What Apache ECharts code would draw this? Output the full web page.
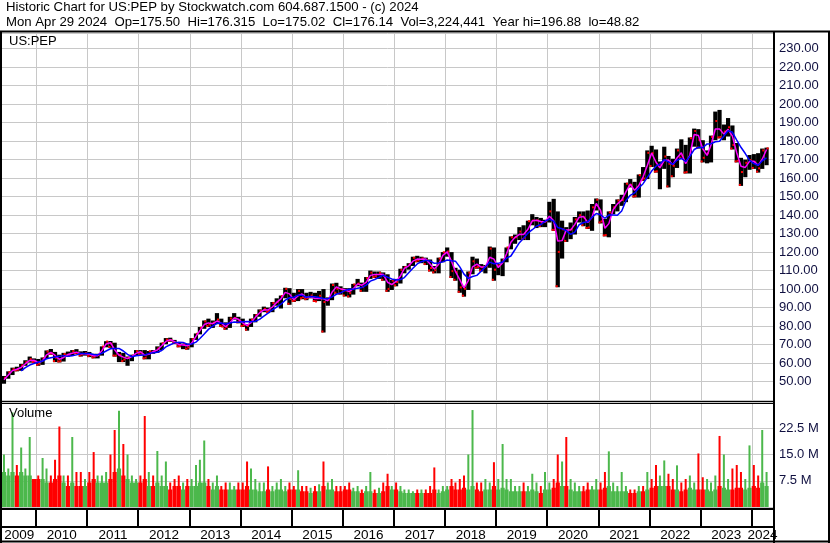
<!DOCTYPE html>
<html><head><meta charset="utf-8">
<script src="https://cdn.jsdelivr.net/npm/echarts/dist/echarts.min.js"></script>
<style>html,body{margin:0;padding:0;background:#fff}#c{width:830px;height:543px}</style>
</head><body><div id="c"></div>
<script>
// ---------- DATA (monthly, May 2009 .. Apr 2024) ----------
const firstYear = 2009, firstMonth = 5;
const years = [2009,2010,2011,2012,2013,2014,2015,2016,2017,2018,2019,2020,2021,2022,2023,2024];
const high = [
53,55.5,57.5,58,59.5,61.5,63.5,62.5,
62.2,63,66.8,67.6,66,64.5,65.5,66.2,67,67.5,66.3,66.5,
66,65,65,69,71.8,71.9,71,66,65.5,63.5,64.5,67,
67,67,66.5,67,69,71,73.5,73.7,72.5,71,70.5,70.5,
73.5,76,79.5,83,84,83,87,84,82,85,87,85,
84,81,84,86.5,89,90.5,90,93,95,96.5,100.7,100.5,
98,100,100,98,98.5,98,99,100,95.5,103,103.4,101.5,
100.5,100.5,102.8,105.5,103.5,106.5,110,109.5,109.5,109,108,105,
105.5,111,112.5,114,117.5,118,117.5,117,116,112.5,117,120,
122.5,120,111.5,110.5,101.5,109.5,117.5,116.5,113.5,113,123,122.5,
113.5,116.5,122.5,128.5,129.5,133.5,134.5,137,140.5,139,138.5,137.5,
147.2,148.8,142,137,133.5,136,139,142,142,142.5,146,149,
148.5,138,142,146,148.5,151,157.5,159.5,158,162,166,175,
177.5,175.5,169,177,172,170.5,176,181,178,182,186.8,186.5,
180.5,175,183,196,196.9,189,192.5,188.5,179,171,170,172.5,
173,173.5,176,176.5];
const low = [
48.8,51.5,53.5,55.5,55.8,58.5,60.2,60,
58.5,59,62.3,64.5,60.5,60.3,60.8,63.5,63.8,64.8,63.5,64,
63.2,62.5,62.5,64,68.5,68.2,63.5,60.5,60.5,58.5,61,63.8,
64.5,62,62,65,65.5,67,70.2,71.5,70.3,68.5,67.5,67.2,
68.5,72.5,75.5,78.5,79.5,79,81,79.5,78,79,83.5,81.5,
79.5,77.5,79.5,82,85,87.5,87,87.5,91,89.5,95,91.5,
93,93.5,94.5,94,95,93,93.5,76.5,91,94,97.5,97,
96,95.5,97,101.5,98.5,98.5,105.5,106,105.5,104.5,98.5,99.5,
101.5,103,108.5,110.5,112.5,114.5,114,113,109.5,108.5,108.5,114.5,
117.5,106,104.5,98,95.9,99.5,108,111,109.5,108.5,111.5,104.5,
107.5,107,114.5,121.5,124.5,126.5,126.5,126.5,134.5,133,133.5,133.5,
136,131.5,101,116.5,125.5,127,129.5,136,134,132.5,131.5,142.5,
135.5,128.5,128,140.5,142,145,147,155,149.5,149.5,158.5,159.5,
166,163,154,165,155,160.5,165.5,170.5,162.5,162.5,177,176,
168.5,168,168.5,180.5,181.5,180.5,182.5,175.5,168.5,155.8,160.5,164.5,
165,163,165,167];
const close = [
52,55,56.7,56.4,58.7,60.5,62.2,60.8,
59.6,62.5,66.2,65.2,62.9,61,64.9,64.2,66.4,65.3,64.6,65.3,
64.3,63.4,64.4,68.9,71.6,70.4,64,64.4,61.9,62.9,64,66.4,
65.7,62.9,66.4,66,67.9,70.7,72.7,72.4,70.8,69.2,70.2,68.4,
72.9,75.8,79.1,82.5,80.8,81.8,83.5,79.7,79.5,84.1,84.4,82.9,
80.4,80.1,83.5,85.9,88.3,89.3,88.1,92.5,93.1,96.2,100.1,94.6,
93.8,99,95.6,95.1,96.5,93.3,96.4,93,94.3,102.2,100.2,99.9,
99.3,97.8,102.5,103,101.2,105.9,108.9,106.9,108.8,107.2,100.1,104.6,
103.8,110.4,111.9,113.3,116.9,115.5,116.6,115.7,111.4,110.2,116.5,119.9,
120.3,109.7,109.2,100.9,100.2,108.9,115,112,111.8,112.4,121.9,110.5,
112.7,115.7,122.5,128,128,131.1,127.8,136.7,137.1,137.2,135.8,136.7,
142,132,120.1,132.3,131.5,132.3,137.7,140,138.6,133.3,144.2,148.3,
136.6,129.2,141.5,144.2,147.9,148.2,157,156.4,150.4,161.6,159.8,173.7,
173.5,163.7,167.4,171.7,167.8,166.7,175,172.3,163.3,181.6,185.5,180.7,
171,173.5,182.3,190.9,182.3,185.2,187.5,177.9,169.4,163.3,168.3,169.8,
168.5,165.3,175,176.1];
const maShort = [
51,53.5,55.9,56.6,57.6,59.6,61.4,61.5,
60.2,61.1,64.4,65.7,64.1,62,63,64.6,65.3,65.9,65,65,
64.8,63.9,63.9,66.7,70.3,71,67.2,64.2,63.2,62.4,63.5,65.2,
66.1,64.3,64.7,66.2,67,69.3,71.7,72.6,71.6,70,69.7,69.3,
70.7,74.4,77.5,80.8,81.7,81.3,82.7,81.6,79.6,81.8,84.3,83.7,
81.7,80.3,81.8,84.7,87.1,88.8,88.7,90.3,92.8,94.7,98.2,97.4,
94.2,96.4,97.3,95.4,95.8,94.9,94.9,94.7,93.7,98.3,101.2,100.1,
99.6,98.6,100.2,102.8,102.1,103.6,107.4,107.9,107.9,108,103.7,102.4,
104.2,107.1,111.2,112.6,115.1,116.2,116.1,116.2,113.6,110.8,113.4,118.2,
120.1,115,109.5,105.1,100.6,104.6,112,113.5,111.9,112.1,117.2,116.2,
111.6,114.2,119.1,125.3,128,129.6,129.5,132.3,136.9,137.2,136.5,136.3,
139.4,137,126,126.2,131.9,131.9,135,138.9,139.3,136,138.8,146.3,
142.5,132.9,135.4,142.9,146.1,148.1,152.6,156.7,153.4,156,160.7,166.8,
173.6,168.6,165.6,169.6,169.8,167.3,170.9,173.7,167.8,172.5,183.6,183.1,
175.9,172.3,177.9,186.6,186.6,183.8,186.4,182.7,173.7,166.4,165.8,169.1,
169.2,166.9,170.2,175.5];
const maLong = [
null,null,null,null,55.8,57.5,58.9,59.7,
60.4,61.1,62.3,62.9,63.3,63.6,64,63.6,63.9,64.4,65.1,65.2,
65.2,64.6,64.4,65.3,66.5,67.7,67.9,67.9,66.5,64.7,63.4,63.9,
64.2,64.4,65.1,65.5,65.8,66.8,68.7,69.9,70.9,71.2,71.1,70.2,
70.3,71.3,73.3,75.7,78.2,80,81.5,81.7,81.1,81.7,82.2,82.1,
82.3,82.4,82.3,82.6,83.6,85.4,87,88.8,90.3,91.8,94,95.3,
95.6,96.7,96.6,95.6,96,95.9,95.4,94.9,94.7,95.8,97.2,97.9,
99.2,99.9,99.9,100.5,100.8,102.1,104.3,105.2,106.3,107.5,106.4,105.5,
104.9,105.2,106.2,108.8,111.3,113.6,114.8,115.6,115.2,113.9,114.1,114.7,
115.7,115.3,115.1,112,108.1,105.8,106.8,107.4,109.6,112,114.6,113.7,
113.9,114.6,116.7,117.9,121.4,125.1,127.5,130.3,132.1,134,134.9,136.7,
137.8,136.7,133.3,132.6,131.6,129.6,130.8,134.8,136,136.4,138.8,140.9,
140.2,138.3,140,140,139.9,142.2,147.8,150.7,152,154.7,157,160.4,
163.8,166.5,167.6,170,168.8,167.5,169.7,170.7,169,171.8,175.5,176.7,
176.4,178.5,178.6,179.7,180,182.8,185.6,184.8,180.5,176.7,173.3,169.7,
167.9,167,169.4,170.9];
// volume in millions: typical level and peak of the month
const volTypical = [
10,9,10,9,10,9,9,8,
8,8,7,7,8,9,7,6,7,6,6,6,
7,8,7,7,7,8,10,11,9,8,7,7,
7,8,6,6,7,6,6,5,6,6,5,6,
6,6,7,7,6,5,6,5,5,5,5,5,
5,6,5,5,4.5,4.5,5,4.5,5,5,4.5,5,
5,5,4.5,4.5,4,4.5,4.5,6,5,5,4.5,4.5,
5,5,4.5,4.5,4,4.5,4.5,4,4,4.5,6,5,
5,4.5,4,4,4,4,4,4,4,5,4,4.5,
5,6,5,5,5.5,5,6,5,4.5,5,5,6,
5,5.5,5,4.5,4.5,4.5,4.5,4.5,5,4.5,4,5,
5,5.5,7,6,6,5,4.5,4.5,4.5,5,5,5,
5,5.5,6,4.5,4.5,4.5,4.5,4,4,4.5,4.5,5,
5.5,6,6,6,6,5,5,4.5,5,5.5,5,5,
5,5,4.5,5,6,5.5,5,5,5.5,5.5,5,5.5,
6,5.5,7,6];
const volPeak = [
15,11,27,12,17,11,20,8,
9,14,11,9,13.5,23,9,9,20,10,10,8,
10,15.7,9,9,10,15,22,27.5,18,15,9,8,
9,26,10,9,16,9,13,7,8,9,7,8,
8,12,13.5,19,8,7,9,6,7,7,6,7,
7,13,11,8,7,7,11.6,6,7,8,6,7,
6,10.5,6,6,5.5,6,6.5,13,7,8,6,6,
6,7,5.5,6,5,6,10,5,5.5,7,9.5,6,
7,6,5,5,4.5,5,5,5,6,11.3,5,6,
6,8,7,8,9,15,27.7,7,7,8,7,12.8,
8,18,8,8,6,6,7,6,9.5,7,6,10,
7,8,15,13,20,8,7,6,6,7,6,8,
7,10,15.9,7,6,10,6,5,5,6,6,10,
8,12,9,13.3,9.5,8,11.9,7,8,9,7,15.3,
8.5,8,7,9,20.3,15,8,11,12,10,8,17.6,
12,9,22,10];
const header1 = 'Historic Chart for US:PEP by Stockwatch.com 604.687.1500 - (c) 2024';
const header2 = 'Mon Apr 29 2024  Op=175.50  Hi=176.315  Lo=175.02  Cl=176.14  Vol=3,224,441  Year hi=196.88  lo=48.82';
const symbolLabel = 'US:PEP';
const volumeLabel = 'Volume';

// ---------- BUILD ----------
const DAY = 86400000;
const months = close.map((_, i) => Date.UTC(firstYear, firstMonth - 1 + i, 15));
const priceData = months.map((t, i) => [t, high[i], low[i], close[i], i === 0 || close[i] >= close[i-1] ? 1 : 0]);
const volData = months.map((t, i) => [t, volTypical[i], volPeak[i], i === 0 || close[i] >= close[i-1] ? 1 : 0]);
const shortLine = months.map((t, i) => [t, maShort[i]]);
const longLine = months.map((t, i) => [t, maLong[i]]);
const yearStarts = years.map(y => [Date.UTC(y, 0, 1), y]);

const XMIN = Date.UTC(2009, 4, 1), XMAX = Date.UTC(2024, 4, 31);
const FONT = '13px "Liberation Sans", Arial, sans-serif';
const GREEN = '#4cb84c', RED = '#ff0000', GRID = '#c8c8c8';
const L = 2, W = 771;

function renderBar(params, api) {
  const t = api.value(0);
  const pH = api.coord([t, api.value(1)]), pL = api.coord([t, api.value(2)]), pC = api.coord([t, api.value(3)]);
  const w = api.size([DAY * 30, 0])[0];
  const x0 = pH[0] - w / 2;
  const ch = [
    { type: 'rect', shape: { x: x0, y: pH[1], width: w, height: Math.max(1, pL[1] - pH[1]) }, style: { fill: '#000' } },
    { type: 'rect', shape: { x: pC[0], y: pC[1] - 1, width: w / 2, height: 2 }, style: { fill: RED } }
  ];
  if (!api.value(4)) ch.push({ type: 'rect', shape: { x: x0, y: pL[1] - 2, width: w / 2, height: 2 }, style: { fill: RED } });
  return { type: 'group', children: ch };
}
function renderVol(params, api) {
  const t = api.value(0);
  const p0 = api.coord([t, 0]), pT = api.coord([t, api.value(1)]), pP = api.coord([t, api.value(2)]);
  const w = api.size([DAY * 30, 0])[0];
  const col = api.value(3) ? GREEN : RED;
  return { type: 'group', children: [
    { type: 'rect', shape: { x: p0[0] - w / 2, y: pT[1], width: w, height: p0[1] - pT[1] }, style: { fill: col } },
    { type: 'rect', shape: { x: p0[0] - 1, y: pP[1], width: 2, height: p0[1] - pP[1] }, style: { fill: col } }
  ]};
}
function renderYearLine(params, api) {
  const cs = params.coordSys;
  const x = Math.round(api.coord([api.value(0), 0])[0]) + 0.5;
  if (x <= cs.x + 1 || x >= cs.x + cs.width) return null;
  return { type: 'line', shape: { x1: x, y1: cs.y, x2: x, y2: cs.y + cs.height }, style: { stroke: GRID, lineWidth: 1 } };
}
function renderYearBox(params, api) {
  const cs = params.coordSys;
  const y = api.value(1);
  let x1 = api.coord([api.value(0), 0])[0];
  let x2 = api.coord([Date.UTC(y + 1, 0, 1), 0])[0];
  x1 = Math.max(x1, cs.x); x2 = Math.min(x2, cs.x + cs.width);
  const children = [];
  if (x1 > cs.x + 1) children.push({ type: 'line', shape: { x1: Math.round(x1), y1: cs.y, x2: Math.round(x1), y2: cs.y + 18 }, style: { stroke: '#000', lineWidth: 2 } });
  children.push({ type: 'text', style: { text: String(y), x: (x1 + x2) / 2, y: cs.y + 26, align: 'center', verticalAlign: 'middle', textAlign: 'center', textVerticalAlign: 'middle', font: '13.5px "Liberation Sans", Arial', fill: '#000' } });
  return { type: 'group', children };
}

const xAxisBase = { type: 'time', min: XMIN, max: XMAX, show: false };
const hline = (x1, y, x2, w) => ({ type: 'line', z: 100, shape: { x1, y1: y, x2, y2: y }, style: { stroke: '#000', lineWidth: w } });
const vline = (x, y1, y2, w) => ({ type: 'line', z: 100, shape: { x1: x, y1, x2: x, y2 }, style: { stroke: '#000', lineWidth: w } });

const option = {
  animation: false,
  backgroundColor: '#fff',
  grid: [
    { left: L, width: W, top: 33, height: 367 },
    { left: L, width: W, top: 402, height: 105 },
    { left: L, width: W, top: 509, height: 33 }
  ],
  xAxis: [ Object.assign({ gridIndex: 0 }, xAxisBase), Object.assign({ gridIndex: 1 }, xAxisBase), Object.assign({ gridIndex: 2 }, xAxisBase) ],
  yAxis: [
    { gridIndex: 0, type: 'value', position: 'right', min: 40, max: 238.5, interval: 10,
      axisLine: { show: false }, axisTick: { show: false },
      splitLine: { lineStyle: { color: GRID, width: 1 } },
      axisLabel: { margin: 6, color: '#101040', fontSize: 13, fontFamily: '"Liberation Sans", Arial',
        formatter: v => (v < 45 || v > 235) ? '' : v.toFixed(2) } },
    { gridIndex: 1, type: 'value', position: 'right', min: 0, max: 30, interval: 7.5,
      axisLine: { show: false }, axisTick: { show: false },
      splitLine: { lineStyle: { color: GRID, width: 1 } },
      axisLabel: { margin: 6, color: '#101040', fontSize: 13, fontFamily: '"Liberation Sans", Arial',
        formatter: v => (v <= 0 || v >= 30) ? '' : v.toFixed(1) + ' M' } },
    { gridIndex: 2, type: 'value', min: 0, max: 1, show: false }
  ],
  graphic: [
    { type: 'text', left: 6, top: 1, style: { text: header1, font: '13.2px "Liberation Sans", Arial', fill: '#000' } },
    { type: 'text', left: 6, top: 16, style: { text: header2, font: '13.2px "Liberation Sans", Arial', fill: '#000' } },
    { type: 'text', left: 9, top: 35, z: 100, style: { text: symbolLabel, font: FONT, fill: '#000' } },
    { type: 'text', left: 9, top: 407, z: 100, style: { text: volumeLabel, font: FONT, fill: '#000' } },
    hline(0, 31.5, 830, 2),
    vline(1, 31, 543, 2),
    vline(774, 31, 543, 2),
    vline(829, 31, 543, 2),
    hline(0, 401.5, 774, 1),
    hline(0, 403.5, 774, 1),
    hline(0, 509, 774, 2),
    hline(0, 527, 774, 2),
    hline(0, 541.5, 830, 2)
  ],
  series: [
    { type: 'custom', xAxisIndex: 0, yAxisIndex: 0, renderItem: renderYearLine, data: yearStarts, z: 1, silent: true },
    { type: 'custom', xAxisIndex: 1, yAxisIndex: 1, renderItem: renderYearLine, data: yearStarts, z: 1, silent: true },
    { type: 'custom', xAxisIndex: 0, yAxisIndex: 0, renderItem: renderBar, data: priceData, z: 2, encode: { x: 0, y: [1, 2] } },
    { type: 'line', xAxisIndex: 0, yAxisIndex: 0, data: shortLine, showSymbol: false, z: 3,
      lineStyle: { color: '#ff00ff', width: 1.5 }, itemStyle: { color: '#ff00ff' } },
    { type: 'line', xAxisIndex: 0, yAxisIndex: 0, data: longLine, showSymbol: false, z: 4, connectNulls: false,
      lineStyle: { color: '#0000ff', width: 1.5 }, itemStyle: { color: '#0000ff' } },
    { type: 'custom', xAxisIndex: 1, yAxisIndex: 1, renderItem: renderVol, data: volData, z: 2, encode: { x: 0, y: [1, 2] } },
    { type: 'custom', xAxisIndex: 2, yAxisIndex: 2, renderItem: renderYearBox, data: yearStarts, z: 5, encode: { x: 0 } }
  ]
};
const chart = echarts.init(document.getElementById('c'), null, { renderer: 'canvas' });
chart.setOption(option);
</script></body></html>
